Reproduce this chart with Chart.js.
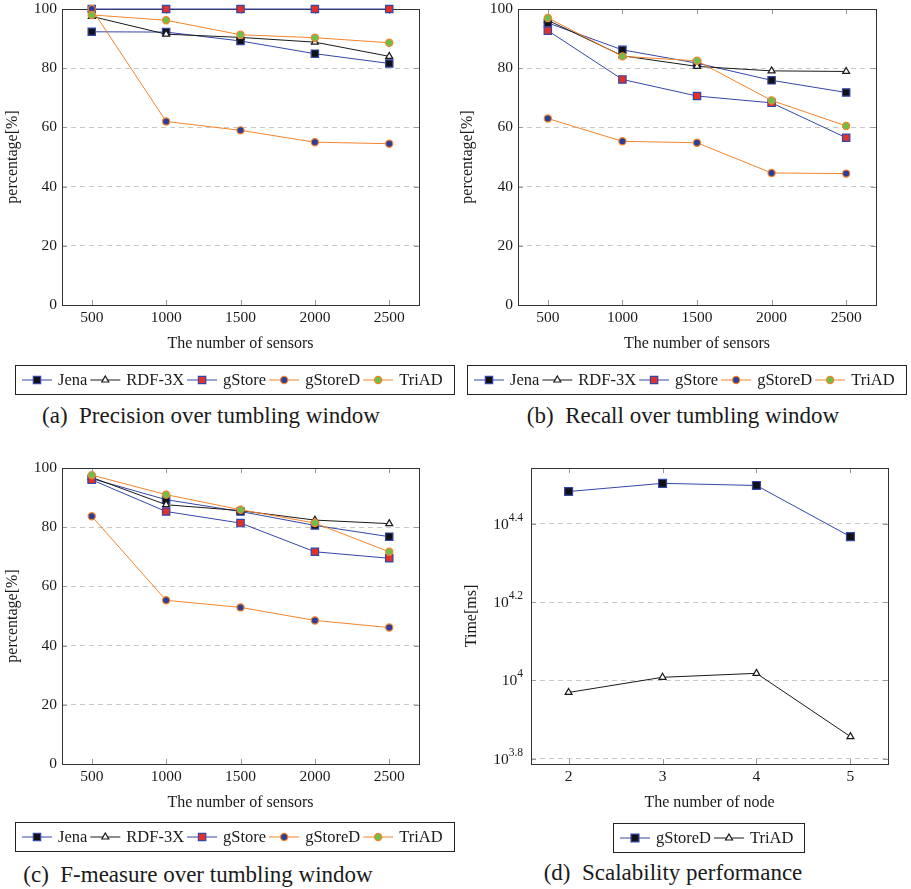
<!DOCTYPE html>
<html>
<head>
<meta charset="utf-8">
<script src="https://cdn.jsdelivr.net/npm/chart.js@4.4.0/dist/chart.umd.min.js"></script>
<style>
  body { margin: 0; background: #fff; font-family: "Liberation Serif", "Times New Roman", serif; }
  #page { position: relative; width: 911px; height: 889px; overflow: hidden; }
  .box { position: absolute; width: 455px; height: 400px; }
  .cap { position: absolute; font-size: 23px; line-height: 23px; color: #1a1a1a; white-space: nowrap; transform: translateX(-50%); }
</style>
</head>
<body>
<div id="page">
  <div class="box" style="left:0;top:0"><canvas id="precisionChart"></canvas></div>
  <div class="box" style="left:455px;top:0"><canvas id="recallChart"></canvas></div>
  <div class="box" style="left:0;top:459px"><canvas id="fmeasureChart"></canvas></div>
  <div class="box" style="left:455px;top:459px"><canvas id="scaleChart"></canvas></div>
  <div class="cap" style="left:211px;top:404px">(a)&nbsp; Precision over tumbling window</div>
  <div class="cap" style="left:683px;top:404px">(b)&nbsp; Recall over tumbling window</div>
  <div class="cap" style="left:198px;top:863px">(c)&nbsp; F-measure over tumbling window</div>
  <div class="cap" style="left:673px;top:861px">(d)&nbsp; Scalability performance</div>
</div>
<script>
// x values and ticks
const sensorCounts = [500, 1000, 1500, 2000, 2500];
const percentTicks = [0, 20, 40, 60, 80, 100];
const nodeCounts = [2, 3, 4, 5];
const timeTickExps = [3.8, 4, 4.2, 4.4];

// (a) precision
const precisionJena = [92.3, 92.2, 89.2, 84.9, 81.6];
const precisionRdf3x = [97.5, 91.5, 90.4, 88.8, 84.0];
const precisionGStore = [100, 100, 100, 100, 100];
const precisionGStoreD = [100, 62.0, 59.0, 55.0, 54.5];
const precisionTriAD = [98.0, 96.2, 91.3, 90.3, 88.6];

// (b) recall
const recallJena = [95.3, 86.2, 81.7, 75.9, 71.8];
const recallRdf3x = [96.2, 84.2, 80.6, 79.1, 78.9];
const recallGStore = [92.7, 76.2, 70.6, 68.3, 56.5];
const recallGStoreD = [63.0, 55.3, 54.8, 44.6, 44.4];
const recallTriAD = [97.0, 84.0, 82.5, 69.1, 60.5];

// (c) f-measure
const fmeasureJena = [96.4, 89.3, 85.3, 80.6, 76.8];
const fmeasureRdf3x = [96.8, 87.6, 85.6, 82.4, 81.2];
const fmeasureGStore = [96.0, 85.3, 81.4, 71.7, 69.5];
const fmeasureGStoreD = [83.7, 55.3, 52.9, 48.5, 46.1];
const fmeasureTriAD = [97.6, 91.0, 85.9, 81.4, 71.7];

// (d) time in ms
const timeGStoreD = [30400, 31900, 31500, 23300];
const timeTriAD = [9310, 10180, 10420, 7180];

const BLUE = '#3446a8';
const ORANGE = '#f5842a';
const BLACK = '#1a1a1a';
const SERIF = '"Liberation Serif", "Times New Roman", serif';

const squareBlack = { borderColor: BLUE, pointStyle: 'rect', pointBackgroundColor: '#111', pointBorderColor: BLUE, pointRadius: 5.2 };
const triangleWhite = { borderColor: BLACK, pointStyle: 'triangle', pointBackgroundColor: '#fff', pointBorderColor: BLACK, pointRadius: 4 };
const squareRed = { borderColor: BLUE, pointStyle: 'rect', pointBackgroundColor: '#e0312b', pointBorderColor: BLUE, pointRadius: 5.2 };
const circleBlue = { borderColor: ORANGE, pointStyle: 'circle', pointBackgroundColor: '#2c3e99', pointBorderColor: ORANGE, pointRadius: 3.6 };
const circleGreen = { borderColor: ORANGE, pointStyle: 'circle', pointBackgroundColor: '#6cc04a', pointBorderColor: ORANGE, pointRadius: 3.6 };

function series(label, xs, ys, style, idx) {
    return Object.assign({
        label: label,
        data: xs.map((x, i) => ({ x: x, y: ys[i] })),
        borderWidth: 1,
        pointBorderWidth: 1.2,
        tension: 0,
        fill: false,
        clip: false,
        order: 10 - idx
    }, style);
}

function fiveSeries(jena, rdf, gstore, gstored, triad) {
    return [
        series('Jena', sensorCounts, jena, squareBlack, 0),
        series('RDF-3X', sensorCounts, rdf, triangleWhite, 1),
        series('gStore', sensorCounts, gstore, squareRed, 2),
        series('gStoreD', sensorCounts, gstored, circleBlue, 3),
        series('TriAD', sensorCounts, triad, circleGreen, 4)
    ];
}

function drawMarker(ctx, ds, x, y) {
    const r = ds.pointRadius;
    ctx.beginPath();
    if (ds.pointStyle === 'rect') {
        const s = r * Math.SQRT1_2;
        ctx.rect(x - s, y - s, 2 * s, 2 * s);
    } else if (ds.pointStyle === 'triangle') {
        for (let k = 0; k < 3; k++) {
            const a = k * 2 * Math.PI / 3;
            ctx.lineTo(x + Math.sin(a) * r, y - Math.cos(a) * r);
        }
        ctx.closePath();
    } else {
        ctx.arc(x, y, r, 0, Math.PI * 2);
    }
    ctx.fillStyle = ds.pointBackgroundColor;
    ctx.fill();
    ctx.lineWidth = ds.pointBorderWidth;
    ctx.strokeStyle = ds.pointBorderColor;
    ctx.stroke();
}

// pgfplots-like frame with inner tick marks
const framePlugin = {
    id: 'frame',
    beforeDatasetsDraw(chart) {
        const { ctx, chartArea: a, scales } = chart;
        ctx.save();
        ctx.strokeStyle = '#9a9a9a';
        ctx.lineWidth = 1;
        ctx.beginPath();
        scales.x.ticks.forEach(t => {
            const px = Math.round(scales.x.getPixelForValue(t.value)) + 0.5;
            ctx.moveTo(px, a.top); ctx.lineTo(px, a.top + 5);
            ctx.moveTo(px, a.bottom); ctx.lineTo(px, a.bottom - 5);
        });
        scales.y.ticks.forEach(t => {
            const py = Math.round(scales.y.getPixelForValue(t.value)) + 0.5;
            ctx.moveTo(a.left, py); ctx.lineTo(a.left + 5, py);
            ctx.moveTo(a.right, py); ctx.lineTo(a.right - 5, py);
        });
        ctx.stroke();
        ctx.strokeStyle = '#333';
        ctx.strokeRect(Math.round(a.left) + 0.5, Math.round(a.top) + 0.5, Math.round(a.width), Math.round(a.height));
        ctx.restore();
    }
};

// boxed legend below the axis, line + marker per entry
const boxLegendPlugin = {
    id: 'boxLegend',
    afterDraw(chart, args, opts) {
        const ctx = chart.ctx;
        const sets = chart.data.datasets;
        ctx.save();
        ctx.font = '16.5px ' + SERIF;
        const lineLen = 30, textGap = 6, itemGap = 3, padL = 7, padR = 11;
        const widths = sets.map(ds => ctx.measureText(ds.label).width);
        let content = 0;
        widths.forEach(w => { content += lineLen + textGap + w; });
        content += itemGap * (sets.length - 1);
        const boxW = content + padL + padR;
        const left = Math.round(opts.centerX - boxW / 2);
        ctx.strokeStyle = '#222';
        ctx.lineWidth = 1;
        ctx.strokeRect(left + 0.5, opts.top + 0.5, Math.round(boxW), opts.height);
        const cy = opts.top + opts.height / 2 + 0.5;
        let x = left + padL;
        sets.forEach((ds, i) => {
            ctx.beginPath();
            ctx.strokeStyle = ds.borderColor;
            ctx.lineWidth = 1;
            ctx.moveTo(x, cy); ctx.lineTo(x + lineLen, cy);
            ctx.stroke();
            drawMarker(ctx, ds, x + lineLen / 2, cy);
            x += lineLen + textGap;
            ctx.fillStyle = '#1a1a1a';
            ctx.textBaseline = 'middle';
            ctx.fillText(ds.label, x, cy + 1);
            x += widths[i] + itemGap;
        });
        ctx.restore();
    }
};

// 10^x labels for the log axis
const powerTicksPlugin = {
    id: 'powerTicks',
    afterDraw(chart) {
        const { ctx, chartArea: a, scales } = chart;
        ctx.save();
        ctx.fillStyle = '#1a1a1a';
        ctx.textBaseline = 'middle';
        timeTickExps.forEach(e => {
            const py = scales.y.getPixelForValue(Math.pow(10, e));
            const exp = Number.isInteger(e) ? String(e) : e.toFixed(1);
            ctx.font = '11.5px ' + SERIF;
            const ew = ctx.measureText(exp).width;
            const right = a.left - 8;
            ctx.textAlign = 'left';
            ctx.fillText(exp, right - ew, py - 6);
            ctx.font = '15.5px ' + SERIF;
            ctx.textAlign = 'right';
            ctx.fillText('10', right - ew, py + 1);
        });
        ctx.restore();
    }
};

function makeChart(id, datasets, cfg) {
    const tickFont = { family: SERIF, size: 15.5 };
    const titleFont = { family: SERIF, size: 16 };
    return new Chart(document.getElementById(id), {
        type: 'line',
        data: { datasets: datasets },
        options: {
            responsive: true,
            maintainAspectRatio: false,
            animation: false,
            events: [],
            layout: { padding: cfg.padding },
            plugins: {
                legend: { display: false },
                tooltip: { enabled: false },
                boxLegend: cfg.legend
            },
            scales: {
                x: {
                    type: 'linear',
                    min: cfg.xMin,
                    max: cfg.xMax,
                    afterBuildTicks: s => { s.ticks = cfg.xTicks.map(v => ({ value: v })); },
                    afterFit: s => { s.height = 50; s.paddingLeft = 0; s.paddingRight = 0; },
                    grid: { display: false, drawTicks: false },
                    border: { display: false },
                    ticks: { color: '#1a1a1a', font: tickFont, padding: 4, maxRotation: 0, autoSkip: false, callback: v => String(v) },
                    title: { display: true, text: cfg.xTitle, color: '#1a1a1a', font: titleFont, padding: { top: 0, bottom: 2 } }
                },
                y: {
                    type: cfg.yType,
                    min: cfg.yMin,
                    max: cfg.yMax,
                    afterBuildTicks: s => { s.ticks = cfg.yTicks.map(v => ({ value: v })); },
                    afterFit: s => { s.width = cfg.yWidth; s.paddingTop = 0; s.paddingBottom = 0; },
                    grid: { color: '#c9c9c9', lineWidth: 1, drawTicks: false },
                    border: { display: false, dash: [5, 4] },
                    ticks: { color: '#1a1a1a', font: tickFont, padding: 5, callback: cfg.yLabel },
                    title: { display: true, text: cfg.yTitle, color: '#1a1a1a', font: titleFont, padding: { top: cfg.yTitlePad, bottom: 0 } }
                }
            }
        },
        plugins: cfg.plugins
    });
}

const percentCfg = (padRight, yWidth, legendX, legendTop) => ({
    padding: { left: 0, top: 9, right: padRight, bottom: 45 },
    xMin: 300, xMax: 2700, xTicks: sensorCounts, xTitle: 'The number of sensors',
    yType: 'linear', yMin: 0, yMax: 100, yTicks: percentTicks, yWidth: yWidth,
    yLabel: v => String(v), yTitle: 'percentage[%]', yTitlePad: 3,
    legend: { centerX: legendX, top: legendTop, height: 29 },
    plugins: [framePlugin, boxLegendPlugin]
});

makeChart('precisionChart',
    fiveSeries(precisionJena, precisionRdf3x, precisionGStore, precisionGStoreD, precisionTriAD),
    percentCfg(36, 62, 234.5, 365));

makeChart('recallChart',
    fiveSeries(recallJena, recallRdf3x, recallGStore, recallGStoreD, recallTriAD),
    percentCfg(34, 63, 231.5, 365));

makeChart('fmeasureChart',
    fiveSeries(fmeasureJena, fmeasureRdf3x, fmeasureGStore, fmeasureGStoreD, fmeasureTriAD),
    percentCfg(36, 62, 234.5, 363));

makeChart('scaleChart', [
    series('gStoreD', nodeCounts, timeGStoreD, Object.assign({}, squareBlack, { pointRadius: 5.6 }), 0),
    series('TriAD', nodeCounts, timeTriAD, triangleWhite, 1)
], {
    padding: { left: 0, top: 9, right: 22, bottom: 45 },
    xMin: 1.6, xMax: 5.4, xTicks: nodeCounts, xTitle: 'The number of node',
    yType: 'logarithmic', yMin: Math.pow(10, 3.786), yMax: Math.pow(10, 4.543),
    yTicks: timeTickExps.map(e => Math.pow(10, e)), yWidth: 76,
    yLabel: () => '', yTitle: 'Time[ms]', yTitlePad: 7,
    legend: { centerX: 253.5, top: 364, height: 29 },
    plugins: [framePlugin, boxLegendPlugin, powerTicksPlugin]
});
</script>
</body>
</html>
